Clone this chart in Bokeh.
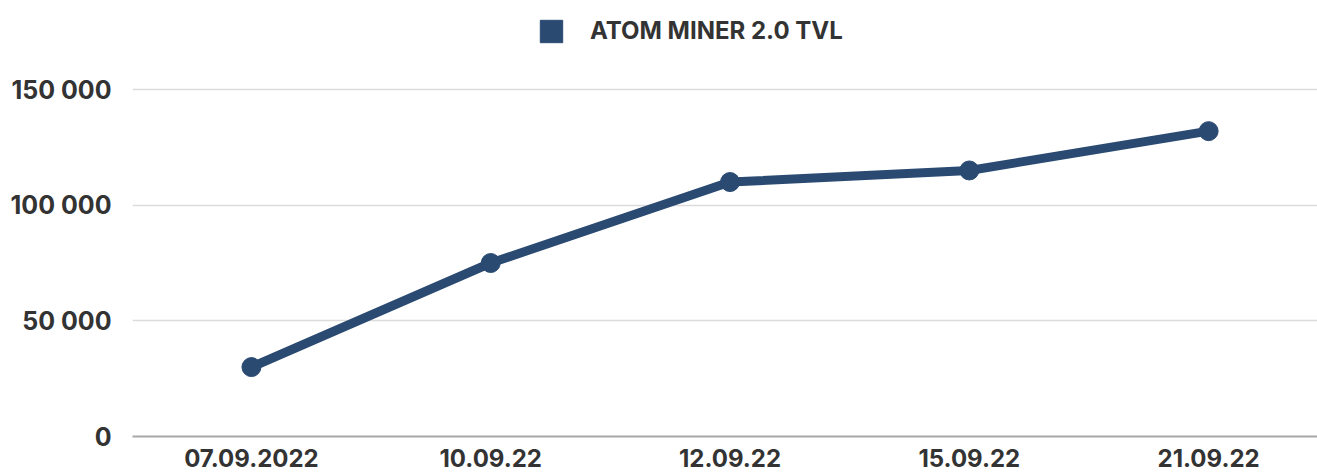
from bokeh.plotting import figure
from bokeh.models import FixedTicker, Range1d, Legend, LegendItem
from bokeh.embed import file_html
from bokeh.resources import INLINE

dates = ["07.09.2022", "10.09.22", "12.09.22", "15.09.22", "21.09.22"]
tvl = [30000, 75000, 110000, 115000, 132000]
y_ticks = [0, 50000, 100000, 150000]
y_tick_labels = ["0", "50 000", "100 000", "150 000"]
series_name = "ATOM MINER 2.0 TVL"

COLOR = "#2a4a72"
TEXT = "#333333"
FONT = "Inter"

xs = list(range(len(dates)))

p = figure(width=1317, height=473, output_backend="svg", toolbar_location=None,
           x_range=Range1d(-0.497, 4.455), y_range=Range1d(0, 188473),
           min_border_left=132, min_border_right=0, min_border_bottom=37, min_border_top=0)
p.outline_line_color = None
p.background_fill_color = "white"

p.line(xs, tvl, line_color=COLOR, line_width=9, line_join="round", line_cap="round")
p.scatter(xs, tvl, size=19, fill_color=COLOR, line_color=COLOR)
dummy = p.quad(left=[0], right=[0.1], bottom=[-200000], top=[-100000],
               fill_color=COLOR, line_color=COLOR)

legend = Legend(items=[LegendItem(label=series_name, renderers=[dummy])],
                orientation="horizontal", location=(405, 391),
                label_text_font=FONT, label_text_font_style="bold",
                label_text_font_size="24px", label_text_color=TEXT,
                glyph_width=28, glyph_height=28, label_standoff=25,
                padding=0, margin=0, border_line_color=None, background_fill_alpha=0)
p.add_layout(legend)

p.xgrid.grid_line_color = None
p.ygrid.ticker = FixedTicker(ticks=y_ticks)
p.ygrid.grid_line_color = "#dcdcdc"
p.ygrid.grid_line_width = 1.5

p.yaxis.ticker = FixedTicker(ticks=y_ticks)
p.yaxis.major_label_overrides = {t: l for t, l in zip(y_ticks, y_tick_labels)}
p.yaxis.axis_line_color = None
p.yaxis.major_tick_line_color = None
p.yaxis.minor_tick_line_color = None
p.yaxis.major_label_standoff = 15
p.yaxis.major_label_text_font = FONT
p.yaxis.major_label_text_font_style = "bold"
p.yaxis.major_label_text_font_size = "25px"
p.yaxis.major_label_text_color = TEXT

p.xaxis.ticker = FixedTicker(ticks=xs)
p.xaxis.major_label_overrides = {i: d for i, d in zip(xs, dates)}
p.xaxis.axis_line_color = "#a8a8a8"
p.xaxis.axis_line_width = 2
p.xaxis.major_tick_line_color = None
p.xaxis.minor_tick_line_color = None
p.xaxis.major_label_standoff = 6
p.xaxis.major_label_text_font = FONT
p.xaxis.major_label_text_font_style = "bold"
p.xaxis.major_label_text_font_size = "24px"
p.xaxis.major_label_text_color = TEXT

open("out.html", "w").write(file_html(p, INLINE))
